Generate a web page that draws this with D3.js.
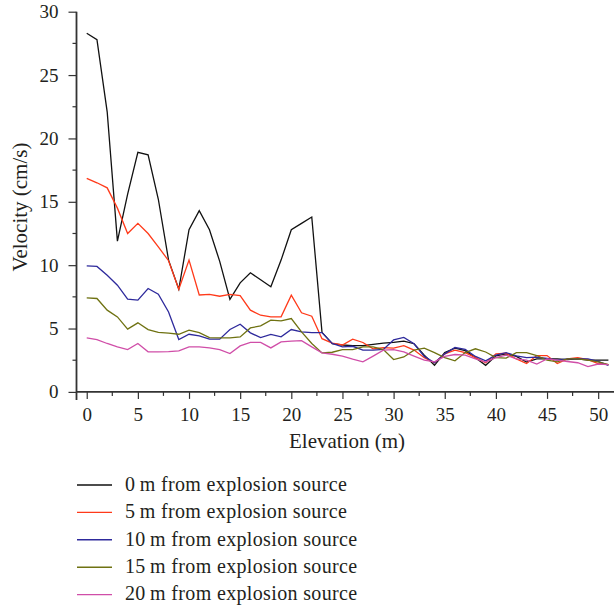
<!DOCTYPE html>
<html><head><meta charset="utf-8">
<script src="https://cdn.jsdelivr.net/npm/d3@7"></script>
<style>body{margin:0;background:#fff}svg{display:block}</style>
</head><body>
<svg id="c" width="616" height="610"></svg>
<script>
const elevation = d3.range(0, 52);
const series0 = [28.3,27.8,22.1,11.9,15.6,18.9,18.7,15.2,10.4,8.1,12.8,14.3,12.8,10.3,7.3,8.6,9.4,8.85,8.3,10.4,12.8,13.3,13.8,4.7,3.8,3.7,3.65,3.65,3.75,3.85,3.9,4.0,3.8,2.9,2.1,3.1,3.45,3.25,2.7,2.1,2.85,3.0,2.8,2.35,2.6,2.6,2.6,2.55,2.6,2.5,2.5,2.5];
const series5 = [16.85,16.5,16.1,14.5,12.5,13.3,12.5,11.45,10.35,8.1,10.4,7.65,7.7,7.55,7.7,7.6,6.45,6.05,5.92,5.92,7.63,6.24,5.97,4.2,3.85,3.7,4.16,3.9,3.4,3.5,3.45,3.65,3.3,2.7,2.3,3.0,3.3,3.1,2.7,2.3,3.0,3.05,2.6,2.24,2.87,2.87,2.24,2.6,2.7,2.55,2.24,2.16];
const series10 = [9.95,9.9,9.2,8.42,7.32,7.24,8.16,7.71,6.31,4.13,4.55,4.42,4.16,4.16,4.92,5.34,4.66,4.29,4.53,4.34,4.92,4.74,4.68,4.68,3.82,3.55,3.6,3.3,3.3,3.35,4.1,4.3,3.8,2.8,2.3,3.0,3.5,3.35,2.8,2.45,2.9,3.1,2.85,2.7,2.75,2.65,2.5,2.6,2.6,2.6,2.4,2.1];
const series15 = [7.42,7.37,6.45,5.92,4.95,5.45,4.92,4.69,4.63,4.55,4.87,4.68,4.29,4.26,4.26,4.34,5.05,5.21,5.66,5.6,5.79,4.74,3.82,3.08,3.13,3.34,3.34,3.55,3.55,3.34,2.55,2.76,3.29,3.45,3.1,2.7,2.45,3.1,3.4,3.15,2.7,2.66,3.1,3.1,2.87,2.5,2.37,2.6,2.6,2.5,2.37,2.16];
const series20 = [4.26,4.13,3.82,3.55,3.34,3.82,3.16,3.16,3.18,3.24,3.55,3.55,3.47,3.34,3.03,3.63,3.9,3.9,3.47,3.95,4.0,4.05,3.55,3.08,2.97,2.82,2.58,2.37,2.82,3.29,3.34,3.16,2.82,2.5,2.37,2.8,2.95,2.9,2.6,2.35,2.7,2.9,2.6,2.5,2.2,2.6,2.5,2.4,2.3,2.0,2.2,2.16];
const seriesNames = ["0\u2009m from explosion source","5\u2009m from explosion source","10\u2009m from explosion source","15\u2009m from explosion source","20\u2009m from explosion source"];
const seriesColors = ["#111111","#ff3a1a","#2e2a9c","#6f7212","#d04ea8"];
const xTicks = [0,5,10,15,20,25,30,35,40,45,50];
const yTicks = [0,5,10,15,20,25,30];
const xLabel = "Elevation (m)";
const yLabel = "Velocity (cm/s)";

const allSeries = [series0, series5, series10, series15, series20];
const svg = d3.select("#c");
const font = "'Liberation Serif','Times New Roman',serif";
const x = d3.scaleLinear().domain([-1, 51.4]).range([76.5, 612.5]);
const y = d3.scaleLinear().domain([0, 30]).range([391.9, 11.7]);
const axisColor = "#333";
const textColor = "#231f20";

// lines
const line = d3.line().x((d,i)=>x(elevation[i])).y(d=>y(d));
allSeries.forEach((s,k)=>{
  svg.append("path").datum(s).attr("d", line)
    .attr("fill","none").attr("stroke", seriesColors[k])
    .attr("stroke-width",1.3).attr("stroke-linejoin","miter");
});

// x axis
const gx = svg.append("g").attr("transform",`translate(0,${y(0)})`);
gx.call(d3.axisBottom(x).tickValues(xTicks).tickSize(7).tickSizeOuter(0).tickPadding(9).tickFormat(d3.format("d")));
gx.append("g").selectAll("line").data(d3.range(2.5, 51, 5)).join("line")
  .attr("x1",d=>x(d)).attr("x2",d=>x(d)).attr("y1",0).attr("y2",4).attr("stroke",axisColor).attr("stroke-width",1.2);
gx.select(".domain").attr("d",`M${x(-1)},0H614`);
// y axis
const gy = svg.append("g").attr("transform",`translate(${x(-1)},0)`);
gy.call(d3.axisLeft(y).tickValues(yTicks).tickSize(8).tickSizeOuter(0).tickPadding(10).tickFormat(d3.format("d")));
gy.append("g").selectAll("line").data(d3.range(2.5, 30, 5)).join("line")
  .attr("y1",d=>y(d)).attr("y2",d=>y(d)).attr("x1",0).attr("x2",-4).attr("stroke",axisColor).attr("stroke-width",1.2);
gy.select(".domain").attr("d",`M0,${y(30)}V${y(0)+8}`);

[gx,gy].forEach(g=>{
  g.selectAll(".domain").attr("stroke",axisColor).attr("stroke-width",1.8);
  g.selectAll(".tick line").attr("stroke",axisColor).attr("stroke-width",1.2);
  g.selectAll(".tick text").attr("font-family",font).attr("font-size",19).attr("fill",textColor);
});

svg.append("text").attr("x",347).attr("y",448).attr("text-anchor","middle")
  .attr("font-family",font).attr("font-size",21).attr("fill",textColor).text(xLabel);
svg.append("text").attr("transform","translate(27,207) rotate(-90)").attr("text-anchor","middle")
  .attr("font-family",font).attr("font-size",21).attr("fill",textColor).text(yLabel);

// legend
const lg = svg.append("g");
seriesNames.forEach((n,k)=>{
  const yy = 485 + k*27.4;
  lg.append("line").attr("x1",77).attr("x2",112).attr("y1",yy).attr("y2",yy)
    .attr("stroke",seriesColors[k]).attr("stroke-width",1.4);
  lg.append("text").attr("x",125).attr("y",yy).attr("dy","0.29em")
    .attr("font-family",font).attr("font-size",20).attr("letter-spacing",0.35)
    .attr("fill",textColor).text(n);
});
</script>
</body></html>
